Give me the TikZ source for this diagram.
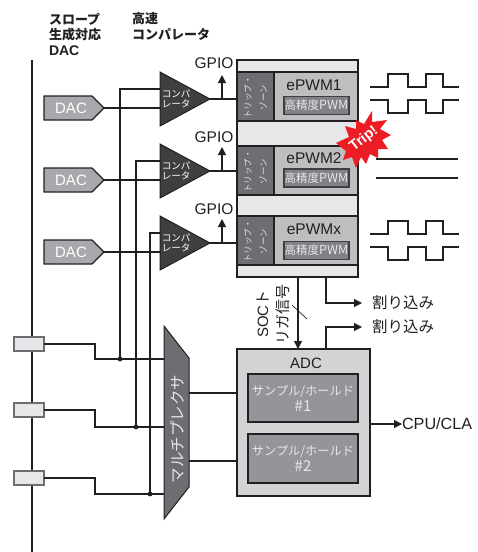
\documentclass[tikz,border=0pt]{standalone}
\usepackage{fontspec}
\setmainfont{Liberation Sans}
\newfontfamily\jp{Noto Sans CJK JP}
\usetikzlibrary{arrows.meta}
\definecolor{inkk}{HTML}{231F20}
\definecolor{gA}{HTML}{E6E7E8}
\definecolor{gB}{HTML}{BCBEC0}
\definecolor{gC}{HTML}{D1D3D4}
\definecolor{gD}{HTML}{939598}
\definecolor{gE}{HTML}{6D6E71}
\definecolor{gF}{HTML}{808285}
\definecolor{gG}{HTML}{3F3F41}
\definecolor{gH}{HTML}{A7A9AC}
\definecolor{tripred}{HTML}{ED1C24}
\tikzset{
  wire/.style={draw=inkk,line width=1.2pt},
  arrowwire/.style={wire,-{Triangle[length=8pt,width=8pt]}},
  box/.style={draw=inkk,line width=1.3pt,inner sep=0pt,outer sep=0pt,anchor=north west},
  txt/.style={inner sep=0pt,outer sep=0pt,text=inkk},
  wtxt/.style={inner sep=0pt,outer sep=0pt,text=white},
  hdr/.style={txt,anchor=west,font=\jp\bfseries\fontsize{13}{13}\selectfont},
  jpl/.style={txt,font=\jp\fontsize{15.5}{15.5}\selectfont},
  gpio/.style={txt,font=\fontsize{15.5}{15.5}\selectfont},
  pwm/.style={txt,font=\fontsize{15.5}{15.5}\selectfont},
  cmp/.style={wtxt,align=left,font=\jp\fontsize{9.5}{10.5}\selectfont},
  tz/.style={inner sep=0pt,outer sep=0pt,text=gA,rotate=90,align=center,font=\jp\fontsize{8.5}{15.5}\selectfont},
  hr/.style={box,draw=gG,line width=1.8pt,fill=gF,text=gA,font=\jp\fontsize{11.5}{11.5}\selectfont,align=center},
  sh/.style={box,fill=gD,text=gA,align=center,font=\jp\fontsize{12.2}{17}\selectfont},
  wave/.style={draw=inkk,line width=1.2pt,line join=miter},
  tap/.style={box,fill=gA,draw=gE},
}
\newcommand{\pwmrow}[5]{%
  \node[box,fill=gB,minimum width=121pt,minimum height=49pt] (pw#1) at (237,#2) {};
  \node[box,fill=gE,minimum width=37pt,minimum height=49pt] (tz#1) at (237,#2) {};
  \node[tz] (tzt#1) at ([yshift=-1pt]tz#1.center) {トリップ・\\ゾーン};
  \node[pwm] (lb#1) at (314,#4) {#3};
  \node[hr,minimum width=65pt,minimum height=18pt] (hr#1) at (284,#5) {高精度\fontsize{12.5}{12.5}\selectfont\addfontfeature{}PWM};
}
\newcommand{\dacshape}[2]{%
  \coordinate (dac#1tip) at (104,#2);
  \draw[line width=1.4pt,draw=inkk,fill=gH] (44,#2-12) -- (92,#2-12) -- (dac#1tip) -- (92,#2+12) -- (44,#2+12) -- cycle;
  \node[wtxt,font=\fontsize{15}{15}\selectfont] (dac#1) at (71,#2) {DAC};
}
\newcommand{\cmpshape}[2]{%
  \coordinate (cp#1tip) at (210,#2);
  \draw[line width=1pt,draw=inkk,fill=gG] (160,#2-27) -- (cp#1tip) -- (160,#2+27) -- cycle;
  \node[cmp] (cp#1) at (176,#2) {コンパ\\レータ};
}
\newcommand{\squarewave}[2]{%
  \draw[wave] (370,#1) -- (388,#1) -- (388,#2) -- (408,#2) -- (408,#1) -- (426,#1) -- (426,#2) -- (443,#2) -- (443,#1) -- (459,#1);
  \draw[wave] (370,#1+13) -- (388,#1+13) -- (388,#1+26) -- (408,#1+26) -- (408,#1+13) -- (426,#1+13) -- (426,#1+26) -- (443,#1+26) -- (443,#1+13) -- (459,#1+13);
}
\begin{document}
\begin{tikzpicture}[x=1pt,y=-1pt]
\useasboundingbox (0,0) rectangle (478,552);
\fill[white] (0,0) rectangle (478,552);

% headers
\node[hdr] (h1) at (49,19) {スロープ};
\node[hdr] (h2) at (49,35) {生成対応};
\node[hdr,font=\bfseries\fontsize{14}{14}\selectfont] (h3) at (49,51) {DAC};
\node[hdr] (h4) at (132,19) {高速};
\node[hdr] (h5) at (132,34) {コンパレータ};

% bus
\coordinate (busT) at (32,60);
\coordinate (busB) at (32,552);
\draw[wire,line width=1.5pt] (busT) -- (busB);

% taps
\node[tap,minimum width=30pt,minimum height=14pt] (t1) at (14,337) {};
\node[tap,minimum width=30pt,minimum height=14pt] (t2) at (14,403) {};
\node[tap,minimum width=30pt,minimum height=14pt] (t3) at (14,471) {};

% ePWM group
\node[box,fill=gA,minimum width=121pt,minimum height=217pt] (grp) at (237,60) {};
\pwmrow{1}{72}{ePWM1}{85}{96.5}
\pwmrow{2}{146}{ePWM2}{158}{169}
\pwmrow{3}{216}{ePWMx}{229}{241.5}

% mux
\coordinate (mTL) at (164,326);
\coordinate (mTR) at (189,358);
\coordinate (mBR) at (189,487);
\coordinate (mBL) at (164,519);
\coordinate (mi1) at (164,359);
\coordinate (mi2) at (164,427);
\coordinate (mi3) at (164,494);
\coordinate (mo1) at (189,393);
\coordinate (mo2) at (189,461);

% ADC
\node[box,fill=gC,minimum width=133pt,minimum height=147pt] (adc) at (237,349) {};
\node[txt,font=\fontsize{15}{15}\selectfont] (adcl) at (306,363) {ADC};
\node[sh,minimum width=110pt,minimum height=48pt] (sh1) at (248,374) {サンプル/ホールド\\[-1pt]\fontsize{15}{15}\selectfont\#1};
\node[sh,minimum width=110pt,minimum height=49pt] (sh2) at (248,434) {サンプル/ホールド\\[-1pt]\fontsize{15}{15}\selectfont\#2};

% comparators' wiring
\coordinate (v1t) at (120,89);
\coordinate (v1b) at (120,359);
\coordinate (v2t) at (136,161);
\coordinate (v2b) at (136,427);
\coordinate (v3t) at (150,233);
\coordinate (v3b) at (150,494);
\coordinate (c1i) at (160,89);
\coordinate (c2i) at (160,161);
\coordinate (c3i) at (160,233);
\dacshape{1}{108}
\dacshape{2}{180}
\dacshape{3}{252}
\draw[wire] (c1i) -- (v1t) -- (v1b);
\draw[wire] (c2i) -- (v2t) -- (v2b);
\draw[wire] (c3i) -- (v3t) -- (v3b);
\draw[wire] (dac1tip) -- (160,108);
\draw[wire] (dac2tip) -- (160,180);
\draw[wire] (dac3tip) -- (160,252);
\cmpshape{1}{99}
\cmpshape{2}{171}
\cmpshape{3}{243}
\draw[wire] (cp1tip) -- (tz1.west |- cp1tip);
\draw[wire] (cp2tip) -- (tz2.west |- cp2tip);
\draw[wire] (cp3tip) -- (tz3.west |- cp3tip);

% GPIO
\coordinate (g1a) at (222,99);\coordinate (g1b) at (222,75);
\coordinate (g2a) at (222,171);\coordinate (g2b) at (222,147);
\coordinate (g3a) at (222,243);\coordinate (g3b) at (222,219);
\draw[arrowwire] (g1a) -- (g1b);
\draw[arrowwire] (g2a) -- (g2b);
\draw[arrowwire] (g3a) -- (g3b);
\node[gpio] (gp1) at (214,63) {GPIO};
\node[gpio] (gp2) at (214,137) {GPIO};
\node[gpio] (gp3) at (214,209) {GPIO};

% taps to mux
\draw[wire] (t1.east) -- (95,344) -- (95,359) -- (mi1);
\draw[wire] (t2.east) -- (95,410) -- (95,427) -- (mi2);
\draw[wire] (t3.east) -- (95,478) -- (95,494) -- (mi3);
\fill[inkk] (v1b) circle (2.4pt) (v2b) circle (2.4pt) (v3b) circle (2.4pt);

\draw[draw=inkk,line width=1pt,fill=gE] (mTL) -- (mTR) -- (mBR) -- (mBL) -- cycle;
\node[inner sep=0pt,outer sep=0pt,text=gA,rotate=90,font=\jp\fontsize{15.5}{15.5}\selectfont] (mux) at (177,429) {マルチプレクサ};
\draw[wire] (mo1) -- (adc.west |- mo1);
\draw[wire] (mo2) -- (adc.west |- mo2);

% CPU/CLA
\node[txt,anchor=west,font=\fontsize{16.2}{16.2}\selectfont] (cpu) at (402,424) {CPU/CLA};
\draw[arrowwire] (adc.east |- cpu) -- (cpu.west);

% SOC trigger
\coordinate (socS) at (298,277);
\coordinate (socE) at (298,349);
\draw[arrowwire] (socS) -- (socE);
\coordinate (sl1) at (292,305);
\coordinate (sl2) at (307,319);
\draw[draw=inkk,line width=.7pt] (sl1) -- (sl2);
\node[txt,rotate=90,align=center,font=\jp\fontsize{15}{20}\selectfont] (soc) at (273,314) {{\rmfamily SOC}ト\\リガ信号};

% interrupts
\node[jpl,anchor=west] (int1) at (372,303) {割り込み};
\node[jpl,anchor=west] (int2) at (372,327) {割り込み};
\coordinate (i1s) at (326,277);
\coordinate (i2s) at (326,349);
\draw[arrowwire] (i1s) -- (i1s |- int1) -- (362,303);
\draw[arrowwire] (i2s) -- (i2s |- int2) -- (362,327);

% waves
\squarewave{87}{74}
\squarewave{234}{221}
\coordinate (w1) at (376,159);\coordinate (w2) at (458,159);
\coordinate (w3) at (376,178);\coordinate (w4) at (458,178);
\draw[wave] (w1) -- (w2);
\draw[wave] (w3) -- (w4);

% trip burst
\fill[tripred] (336,143) -- (349,137) -- (345,126) -- (356,129) -- (356,120) -- (364,124) -- (372,111) -- (372,122) -- (387,120) -- (380,129) -- (391,135) -- (382,140) -- (388,149) -- (378,149) -- (378,158) -- (370,154) -- (366,164) -- (361,157) -- (356,168) -- (352,157) -- (343,160) -- (346,151) -- cycle;
\node[wtxt,rotate=38,font=\bfseries\fontsize{14.5}{14.5}\selectfont] (trip) at (364,139) {Trip!};
\end{tikzpicture}
\end{document}
